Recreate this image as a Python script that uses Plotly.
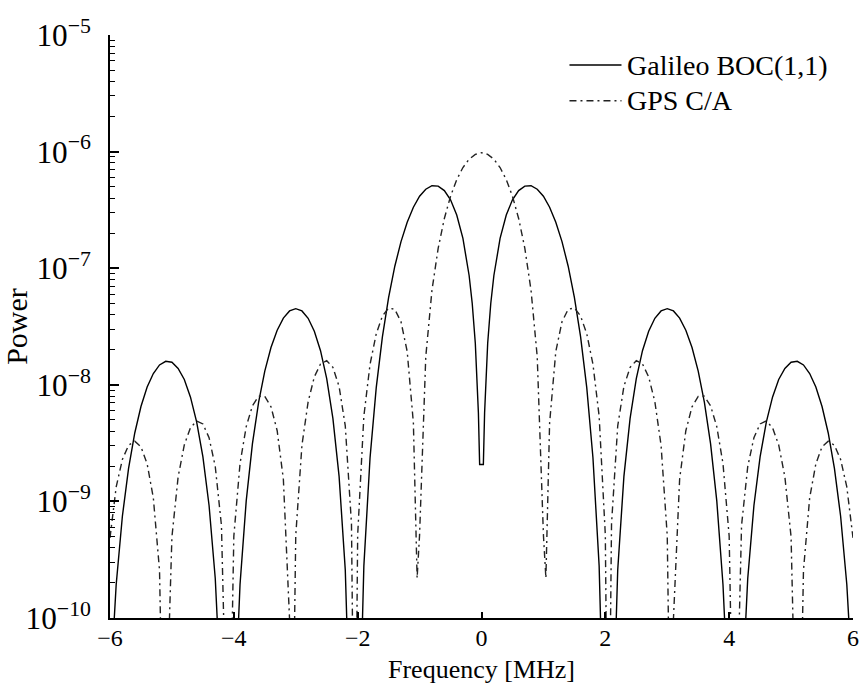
import plotly.graph_objects as go

# ---- data (Power vs frequency in MHz) ----
freq_boc = [-6.0, -5.9, -5.8, -5.7, -5.6, -5.5, -5.4, -5.3, -5.2, -5.1, -5.0,
            -4.9, -4.8, -4.7, -4.6, -4.5, -4.4, -4.3, -4.2, -4.1, -4.0,
            -3.9, -3.8, -3.7, -3.6, -3.5, -3.4, -3.3, -3.2, -3.1, -3.0,
            -2.9, -2.8, -2.7, -2.6, -2.5, -2.4, -2.3, -2.2, -2.1, -2.0,
            -1.9, -1.8, -1.7, -1.6, -1.5, -1.4, -1.3, -1.2, -1.1, -1.0,
            -0.9, -0.8, -0.7, -0.6, -0.5, -0.4, -0.3, -0.2, -0.15, -0.1,
            -0.07, -0.05, -0.03, 0.03, 0.05, 0.07,
            0.1, 0.15, 0.2, 0.3, 0.4, 0.5, 0.6, 0.7, 0.8, 0.9, 1.0,
            1.1, 1.2, 1.3, 1.4, 1.5, 1.6, 1.7, 1.8, 1.9, 2.0,
            2.1, 2.2, 2.3, 2.4, 2.5, 2.6, 2.7, 2.8, 2.9, 3.0,
            3.1, 3.2, 3.3, 3.4, 3.5, 3.6, 3.7, 3.8, 3.9, 4.0,
            4.1, 4.2, 4.3, 4.4, 4.5, 4.6, 4.7, 4.8, 4.9, 5.0,
            5.1, 5.2, 5.3, 5.4, 5.5, 5.6, 5.7, 5.8, 5.9, 6.0]
power_boc = [2.25e-11, 1.94e-10, 7.46e-10, 1.92e-9, 3.86e-9, 6.51e-9, 9.57e-9, 1.25e-8, 1.48e-8, 1.59e-8, 1.56e-8,
             1.38e-8, 1.11e-8, 7.83e-9, 4.79e-9, 2.42e-9, 9.22e-10, 2.18e-10, 1.75e-11, 1e-12, 1.02e-11,
             1.94e-10, 1.01e-9, 3.11e-9, 7.07e-9, 1.31e-8, 2.09e-8, 2.94e-8, 3.73e-8, 4.30e-8, 4.50e-8,
             4.30e-8, 3.72e-8, 2.88e-8, 1.96e-8, 1.13e-8, 5.15e-9, 1.64e-9, 2.58e-10, 4.43e-12, 2.57e-12,
             2.80e-10, 2.37e-9, 9.45e-9, 2.59e-8, 5.63e-8, 1.04e-7, 1.69e-7, 2.48e-7, 3.33e-7, 4.14e-7,
             4.76e-7, 5.10e-7, 5.06e-7, 4.63e-7, 3.86e-7, 2.86e-7, 1.80e-7, 8.66e-8, 5.01e-8, 2.27e-8,
             1.13e-8, 5.76e-9, 2.07e-9, 2.07e-9, 5.76e-9, 1.13e-8,
             2.27e-8, 5.01e-8, 8.66e-8, 1.80e-7, 2.86e-7, 3.86e-7, 4.63e-7, 5.06e-7, 5.10e-7, 4.76e-7, 4.14e-7,
             3.33e-7, 2.48e-7, 1.69e-7, 1.04e-7, 5.63e-8, 2.59e-8, 9.45e-9, 2.37e-9, 2.80e-10, 2.57e-12,
             4.43e-12, 2.58e-10, 1.64e-9, 5.15e-9, 1.13e-8, 1.96e-8, 2.88e-8, 3.72e-8, 4.30e-8, 4.50e-8,
             4.30e-8, 3.73e-8, 2.94e-8, 2.09e-8, 1.31e-8, 7.07e-9, 3.11e-9, 1.01e-9, 1.94e-10, 1.02e-11,
             1e-12, 1.75e-11, 2.18e-10, 9.22e-10, 2.42e-9, 4.79e-9, 7.83e-9, 1.11e-8, 1.38e-8, 1.56e-8,
             1.59e-8, 1.48e-8, 1.25e-8, 9.57e-9, 6.51e-9, 3.86e-9, 1.92e-9, 7.46e-10, 1.94e-10, 2.25e-11]

freq_ca = [-6.0, -5.9, -5.8, -5.7, -5.6, -5.5, -5.4, -5.3, -5.2, -5.115, -5.1, -5.0,
           -4.9, -4.8, -4.7, -4.6, -4.5, -4.4, -4.3, -4.2, -4.1, -4.092, -4.0,
           -3.9, -3.8, -3.7, -3.6, -3.5, -3.4, -3.3, -3.2, -3.1, -3.069, -3.0,
           -2.9, -2.8, -2.7, -2.6, -2.5, -2.4, -2.3, -2.2, -2.1, -2.046, -2.0,
           -1.9, -1.8, -1.7, -1.6, -1.5, -1.4, -1.3, -1.2, -1.1, -1.04, -1.0,
           -0.9, -0.8, -0.7, -0.6, -0.5, -0.4, -0.3, -0.2, -0.1, 0.0,
           0.1, 0.2, 0.3, 0.4, 0.5, 0.6, 0.7, 0.8, 0.9,
           1.0, 1.04, 1.1, 1.2, 1.3, 1.4, 1.5, 1.6, 1.7, 1.8, 1.9,
           2.0, 2.046, 2.1, 2.2, 2.3, 2.4, 2.5, 2.6, 2.7, 2.8, 2.9,
           3.0, 3.069, 3.1, 3.2, 3.3, 3.4, 3.5, 3.6, 3.7, 3.8, 3.9,
           4.0, 4.092, 4.1, 4.2, 4.3, 4.4, 4.5, 4.6, 4.7, 4.8, 4.9,
           5.0, 5.1, 5.115, 5.2, 5.3, 5.4, 5.5, 5.6, 5.7, 5.8, 5.9, 6.0]
power_ca = [4.87e-10, 1.33e-9, 2.29e-9, 3.03e-9, 3.28e-9, 2.94e-9, 2.10e-9, 1.07e-9, 2.56e-10, 1e-12, 8.41e-12, 4.96e-10,
            1.62e-9, 3.05e-9, 4.29e-9, 4.90e-9, 4.62e-9, 3.52e-9, 1.99e-9, 6.23e-10, 3.74e-12, 1e-12, 5.03e-10,
            2.11e-9, 4.38e-9, 6.60e-9, 7.97e-9, 7.96e-9, 6.48e-9, 4.04e-9, 1.55e-9, 9.76e-11, 1e-12, 5.09e-10,
            3.03e-9, 7.15e-9, 1.17e-8, 1.51e-8, 1.61e-8, 1.41e-8, 9.69e-9, 4.44e-9, 6.41e-10, 1e-12, 5.14e-10,
            5.39e-9, 1.50e-8, 2.74e-8, 3.89e-8, 4.56e-8, 4.44e-8, 3.47e-8, 1.93e-8, 4.70e-9, 2.2e-10, 5.16e-10,
            1.74e-8, 6.48e-8, 1.48e-7, 2.67e-7, 4.14e-7, 5.75e-7, 7.30e-7, 8.61e-7, 9.47e-7, 9.78e-7,
            9.47e-7, 8.61e-7, 7.30e-7, 5.75e-7, 4.14e-7, 2.67e-7, 1.48e-7, 6.48e-8, 1.74e-8,
            5.16e-10, 2.2e-10, 4.70e-9, 1.93e-8, 3.47e-8, 4.44e-8, 4.56e-8, 3.89e-8, 2.74e-8, 1.50e-8, 5.39e-9,
            5.14e-10, 1e-12, 6.41e-10, 4.44e-9, 9.69e-9, 1.41e-8, 1.61e-8, 1.51e-8, 1.17e-8, 7.15e-9, 3.03e-9,
            5.09e-10, 1e-12, 9.76e-11, 1.55e-9, 4.04e-9, 6.48e-9, 7.96e-9, 7.97e-9, 6.60e-9, 4.38e-9, 2.11e-9,
            5.03e-10, 1e-12, 3.74e-12, 6.23e-10, 1.99e-9, 3.52e-9, 4.62e-9, 4.90e-9, 4.29e-9, 3.05e-9, 1.62e-9,
            4.96e-10, 8.41e-12, 1e-12, 2.56e-10, 1.07e-9, 2.10e-9, 2.94e-9, 3.28e-9, 3.03e-9, 2.29e-9, 1.33e-9, 4.87e-10]

series_names = ["Galileo BOC(1,1)", "GPS C/A"]
x_title = "Frequency [MHz]"
y_title = "Power"

FONT = "Liberation Serif"
DASHDOT = "7px,4px,2px,4px"

fig = go.Figure()
fig.add_trace(go.Scatter(x=freq_boc, y=power_boc, mode="lines", name=series_names[0],
                         line=dict(color="black", width=1.4), showlegend=False))
fig.add_trace(go.Scatter(x=freq_ca, y=power_ca, mode="lines", name=series_names[1],
                         line=dict(color="#222222", width=1.4, dash=DASHDOT), showlegend=False))

# manual legend (top right, no frame)
leg_rows = [(0.9485, "solid", "black"), (0.8873, DASHDOT, "#222222")]
for (yy, dash, col), name in zip(leg_rows, series_names):
    fig.add_shape(type="line", xref="paper", yref="paper", x0=0.6184, x1=0.6884, y0=yy, y1=yy,
                  line=dict(color=col, width=1.6, dash=dash))
    fig.add_annotation(xref="paper", yref="paper", x=0.6925, y=yy, text=name, showarrow=False,
                       xanchor="left", yanchor="middle", font=dict(family=FONT, size=28, color="black"))

# x axis title placed below the tick labels
fig.add_annotation(xref="paper", yref="paper", x=0.5, y=0, yshift=-51, text=x_title, showarrow=False,
                   xanchor="center", yanchor="middle", borderpad=0,
                   font=dict(family=FONT, size=26, color="black"))

fig.update_layout(
    width=861, height=684,
    margin=dict(l=110, r=8, t=35, b=66),
    plot_bgcolor="white", paper_bgcolor="white",
    font=dict(family=FONT, color="black"),
    showlegend=False,
)
fig.update_xaxes(
    range=[-6, 6], dtick=2, tick0=0, ticks="inside", ticklen=6, tickwidth=1.5, tickcolor="black",
    showline=True, linewidth=2, linecolor="black", showgrid=False, zeroline=False,
    tickfont=dict(family=FONT, size=24), automargin=False, ticklabelstandoff=-3,
)
fig.update_yaxes(
    type="log", range=[-10, -5], dtick=1, exponentformat="power",
    ticks="inside", ticklen=9, tickwidth=1.5, tickcolor="black",
    minor=dict(ticks="inside", ticklen=5, tickwidth=1.2, tickcolor="black", dtick="D1", showgrid=False),
    showline=True, linewidth=2, linecolor="black", showgrid=False, zeroline=False,
    tickfont=dict(family=FONT, size=25), automargin=False, ticklabelstandoff=12,
    title=dict(text=y_title, font=dict(family=FONT, size=30), standoff=4),
)

fig.write_html("out.html")
